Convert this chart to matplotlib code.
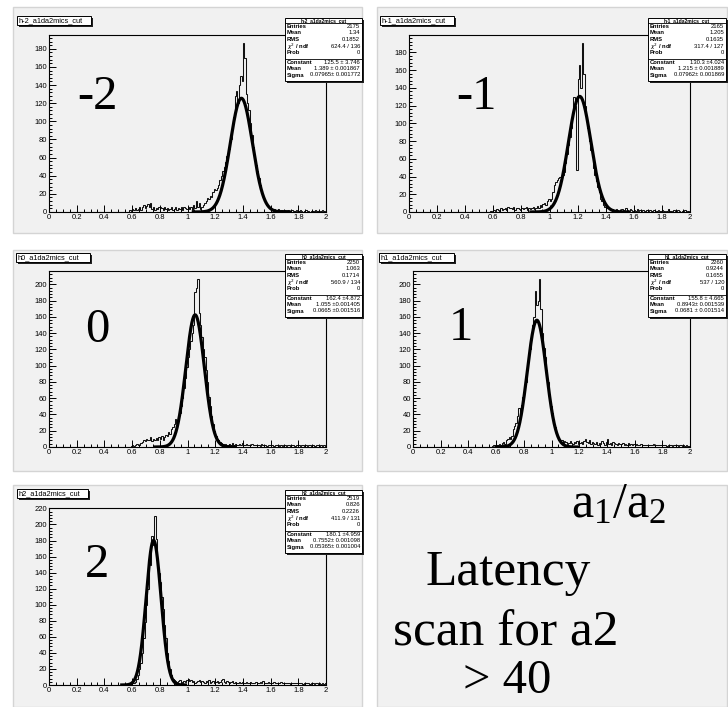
import numpy as np
import matplotlib
matplotlib.use("Agg")
import matplotlib.pyplot as plt
from matplotlib.patches import Rectangle
from matplotlib.lines import Line2D
from matplotlib.ticker import MultipleLocator, FuncFormatter

# ---------------------------------------------------------------- data
# bin counts (bin width 0.01) from a1/a2 = 0.50 upward to 2.00; below 0.50 all bins are empty
hm2_counts = [
    0, 0, 0, 0, 0, 0, 0, 0, 2, 1,
    3, 2, 4, 2, 3, 5, 2, 6, 8, 4,
    7, 9, 5, 10, 3, 6, 2, 4, 3, 5,
    6, 4, 2, 5, 3, 4, 2, 3, 5, 2,
    3, 6, 2, 4, 3, 5, 2, 6, 4, 3,
    5, 3, 6, 2, 8, 4, 12, 5, 10, 3,
    5, 8, 10, 12, 15, 14, 18, 16, 22, 25,
    24, 26, 30, 35, 40, 45, 50, 55, 62, 70,
    70, 80, 92, 105, 128, 134, 120, 140, 150, 145,
    186, 170, 130, 120, 112, 98, 85, 72, 60, 52,
    45, 38, 30, 24, 18, 14, 10, 8, 6, 4,
    3, 2, 3, 1, 2, 3, 1, 2, 2, 1,
    2, 1, 2, 1, 0, 2, 1, 1, 2, 1,
    1, 2, 1, 0, 1, 2, 1, 1, 0, 1,
    1, 0, 2, 1, 1, 0, 1, 2, 1, 0,
]
hm1_counts = [
    0, 0, 0, 0, 0, 0, 0, 0, 1, 0,
    2, 1, 3, 2, 1, 4, 2, 3, 5, 2,
    6, 4, 5, 3, 6, 2, 5, 4, 3, 2,
    5, 3, 4, 6, 2, 4, 3, 5, 6, 3,
    4, 7, 5, 8, 6, 9, 10, 8, 12, 15,
    12, 15, 22, 30, 34, 36, 38, 40, 38, 42,
    45, 55, 65, 75, 85, 95, 110, 130, 120, 47,
    150, 166, 140, 190, 155, 120, 105, 95, 80, 70,
    62, 50, 42, 35, 28, 22, 15, 12, 8, 6,
    5, 4, 3, 2, 3, 2, 1, 3, 2, 1,
    2, 3, 1, 2, 4, 2, 1, 3, 2, 1,
    2, 1, 3, 1, 2, 1, 2, 1, 0, 2,
    1, 2, 1, 1, 2, 0, 1, 2, 1, 1,
    2, 1, 0, 1, 3, 1, 1, 0, 2, 1,
    1, 2, 1, 0, 1, 1, 2, 0, 1, 0,
]
h0_counts = [
    0, 0, 0, 0, 0, 0, 0, 0, 0, 1,
    2, 1, 3, 4, 2, 3, 5, 6, 8, 7,
    10, 8, 9, 12, 7, 10, 8, 11, 9, 12,
    10, 13, 8, 12, 15, 14, 18, 16, 22, 25,
    28, 35, 30, 38, 42, 50, 60, 72, 85, 98,
    110, 120, 130, 140, 150, 190, 195, 206, 165, 150,
    135, 120, 110, 95, 80, 62, 50, 38, 28, 20,
    14, 10, 8, 6, 5, 4, 3, 4, 2, 3,
    4, 3, 5, 2, 4, 3, 2, 4, 3, 5,
    3, 2, 4, 3, 2, 3, 4, 2, 3, 2,
    3, 2, 1, 4, 2, 3, 2, 1, 3, 2,
    2, 3, 1, 2, 2, 3, 1, 2, 1, 2,
    3, 1, 2, 2, 1, 3, 2, 1, 2, 3,
    2, 1, 2, 3, 1, 2, 1, 2, 3, 1,
    2, 1, 1, 2, 3, 1, 2, 1, 2, 1,
]
h1_counts = [
    0, 0, 0, 0, 0, 0, 0, 1, 2, 0,
    3, 2, 4, 3, 5, 6, 4, 8, 10, 12,
    10, 14, 22, 26, 30, 38, 48, 40, 52, 62,
    70, 80, 95, 108, 120, 135, 150, 160, 192, 175,
    180, 206, 170, 140, 122, 110, 95, 80, 65, 50,
    42, 35, 25, 18, 12, 8, 6, 9, 5, 7,
    6, 4, 5, 7, 5, 4, 6, 5, 7, 4,
    5, 6, 4, 7, 10, 6, 5, 8, 4, 6,
    5, 4, 6, 3, 5, 4, 7, 5, 3, 6,
    10, 4, 5, 3, 6, 5, 4, 3, 5, 4,
    4, 5, 3, 4, 3, 5, 2, 4, 3, 4,
    3, 4, 2, 3, 4, 2, 3, 3, 2, 3,
    3, 2, 3, 4, 2, 3, 2, 3, 2, 2,
    2, 3, 2, 1, 3, 2, 2, 1, 2, 3,
    2, 1, 2, 2, 1, 2, 1, 2, 1, 1,
]
h2_counts = [
    0, 0, 0, 0, 0, 0, 0, 0, 1, 0,
    2, 3, 4, 7, 12, 20, 28, 40, 58, 78,
    100, 120, 163, 150, 186, 175, 210, 182, 150, 140,
    128, 110, 95, 75, 58, 40, 30, 20, 12, 8,
    6, 5, 4, 5, 6, 4, 3, 5, 4, 6,
    8, 5, 6, 4, 5, 3, 4, 5, 6, 4,
    5, 4, 3, 5, 4, 6, 3, 4, 5, 3,
    4, 5, 3, 4, 6, 7, 4, 3, 5, 4,
    3, 4, 5, 3, 4, 3, 2, 4, 3, 4,
    3, 2, 4, 3, 2, 4, 3, 2, 3, 4,
    3, 2, 4, 3, 5, 2, 3, 2, 4, 3,
    2, 3, 4, 2, 3, 2, 3, 4, 2, 3,
    3, 2, 3, 2, 1, 3, 2, 3, 2, 2,
    2, 3, 2, 1, 2, 3, 2, 2, 1, 2,
    2, 1, 3, 2, 1, 2, 1, 2, 1, 2,
]

hist_names = ["h-2_a1da2mics_cut", "h-1_a1da2mics_cut", "h0_a1da2mics_cut",
              "h1_a1da2mics_cut", "h2_a1da2mics_cut"]
latency_labels = ["-2", "-1", "0", "1", "2"]

# Gaussian fit results: constant, mean, sigma
fit_constant = [125.5, 130.3, 162.4, 155.8, 180.1]
fit_mean = [1.389, 1.215, 1.055, 0.8943, 0.7552]
fit_sigma = [0.07965, 0.07962, 0.0665, 0.0681, 0.05365]

# statistics box text
stat_entries = ["2175", "2165", "2250", "2260", "2519"]
stat_mean = ["1.34", "1.205", "1.063", "0.9244", "0.826"]
stat_rms = ["0.1852", "0.1635", "0.1714", "0.1655", "0.2226"]
stat_chi2 = ["624.4 / 136", "317.4 / 127", "560.9 / 134", "537 / 120", "411.9 / 131"]
stat_const_txt = ["125.5 \u00b1 3.746", "130.3 \u00b14.024", "162.4 \u00b14.872",
                  "155.8 \u00b1 4.665", "180.1 \u00b14.959"]
stat_mean_txt = ["1.389 \u00b1 0.001867", "1.215 \u00b1 0.001889", "1.055 \u00b10.001405",
                 "0.8943\u00b1 0.001539", "0.7552\u00b1 0.001098"]
stat_sigma_txt = ["0.07965\u00b1 0.001772", "0.07962\u00b1 0.001869", "0.0665 \u00b10.001516",
                  "0.0681 \u00b1 0.001514", "0.05365\u00b1 0.001004"]

bin_edges = np.linspace(0.0, 2.0, 201)
all_counts = [hm2_counts, hm1_counts, h0_counts, h1_counts, h2_counts]

# ---------------------------------------------------------------- layout (pixels)
W, H = 728, 707
fig = plt.figure(figsize=(W / 100, H / 100), dpi=100)
fig.patch.set_facecolor("white")

PAD_GRAY = "#f1f1f1"
SANS = ["Liberation Sans", "DejaVu Sans"]
SERIF = ["Liberation Serif", "DejaVu Serif"]


def fx(x):
    return x / W


def fy(y):
    return 1 - y / H


def frect(x0, y0, x1, y1):
    return [fx(x0), fy(y1), (x1 - x0) / W, (y1 - y0) / H]


def add_rect(x0, y0, x1, y1, **kw):
    r = Rectangle((fx(x0), fy(y1)), (x1 - x0) / W, (y1 - y0) / H,
                  transform=fig.transFigure, **kw)
    fig.add_artist(r)
    return r


def add_text(x, y, s, **kw):
    fig.text(fx(x), fy(y), s, **kw)


pads = [(13, 7, 362, 233), (377, 7, 727, 233),
        (13, 250, 362, 471), (377, 250, 727, 471),
        (13, 485, 362, 707), (377, 485, 727, 707)]
frames = [(49, 35, 326, 212), (409, 35, 690, 212),
          (49, 271, 326, 447), (413, 271, 690, 447),
          (49, 508, 326, 685)]
title_boxes = [(17, 16, 91, 25), (380, 16, 454, 25),
               (16, 253, 90, 262), (379, 253, 454, 262),
               (17, 489, 88, 498)]
stat_boxes = [(285, 18, 362, 81), (648, 18, 726, 81),
              (285, 254, 362, 317), (648, 254, 726, 317),
              (285, 490, 362, 553)]
big_label_pos = [(97, 97), (476, 97), (97, 330), (461, 328), (97, 565)]

for (x0, y0, x1, y1) in pads:
    add_rect(x0, y0, x1, y1, facecolor=PAD_GRAY, edgecolor="#d4d4d4", lw=1.0, zorder=0)

for i in range(5):
    counts = np.concatenate([np.zeros(50), np.array(all_counts[i], dtype=float)])
    ax = fig.add_axes(frect(*frames[i]))
    ax.set_facecolor(PAD_GRAY)
    ax.stairs(counts, bin_edges, color="#111111", lw=0.75, baseline=None)

    c, m, s = fit_constant[i], fit_mean[i], fit_sigma[i]
    xf = np.linspace(m - 4.5 * s, m + 4.5 * s, 500)
    ax.plot(xf, c * np.exp(-0.5 * ((xf - m) / s) ** 2), color="black", lw=2.3,
            solid_capstyle="butt")

    ax.set_xlim(0, 2)
    ax.set_ylim(0, 1.05 * counts.max())
    ax.xaxis.set_major_locator(MultipleLocator(0.2))
    ax.xaxis.set_minor_locator(MultipleLocator(0.05))
    ax.yaxis.set_major_locator(MultipleLocator(20))
    ax.yaxis.set_minor_locator(MultipleLocator(4))
    ax.xaxis.set_major_formatter(FuncFormatter(lambda v, p: f"{v:g}"))
    ax.yaxis.set_major_formatter(FuncFormatter(lambda v, p: f"{v:g}"))
    ax.tick_params(which="both", direction="in", top=False, right=False,
                   labelsize=5.5, pad=1.5, width=0.7)
    ax.tick_params(which="major", length=5)
    ax.tick_params(which="minor", length=2.5)
    for lab in ax.get_xticklabels() + ax.get_yticklabels():
        lab.set_fontfamily(SANS)
    for sp in ax.spines.values():
        sp.set_linewidth(0.8)

    bx, by = big_label_pos[i]
    add_text(bx, by, latency_labels[i], family=SERIF, fontsize=35,
             ha="center", va="center", zorder=5)

    # histogram title box with shadow
    x0, y0, x1, y1 = title_boxes[i]
    add_rect(x0 + 2, y0 + 2, x1 + 2, y1 + 2, facecolor="#222222", edgecolor="none", zorder=6)
    add_rect(x0, y0, x1, y1, facecolor="white", edgecolor="black", lw=0.7, zorder=7)
    add_text(x0 + 1.5, (y0 + y1) / 2 + 0.3, hist_names[i], family=SANS, fontsize=5.3,
             ha="left", va="center", zorder=8)

    # statistics box with shadow
    x0, y0, x1, y1 = stat_boxes[i]
    add_rect(x0 + 2, y0 + 2, x1 + 2, y1 + 2, facecolor="#222222", edgecolor="none", zorder=6)
    add_rect(x0, y0, x1, y1, facecolor="white", edgecolor="black", lw=0.7, zorder=7)
    add_text((x0 + x1) / 2, y0 + 2.8, hist_names[i], family=SANS, fontsize=3.6,
             ha="center", va="center", zorder=8, fontweight="bold")
    for yy in (y0 + 5.2, y0 + 40.5):
        fig.add_artist(Line2D([fx(x0), fx(x1)], [fy(yy), fy(yy)],
                              transform=fig.transFigure, color="black", lw=0.6, zorder=8))
    rows = [("Entries", stat_entries[i], 8.7), ("Mean", stat_mean[i], 15.0),
            ("RMS", stat_rms[i], 21.3), (r"$\chi^2$ / ndf", stat_chi2[i], 28.5),
            ("Prob", "0", 35.0), ("Constant", stat_const_txt[i], 44.0),
            ("Mean", stat_mean_txt[i], 50.3), ("Sigma", stat_sigma_txt[i], 57.0)]
    for lab, val, dy in rows:
        add_text(x0 + 2, y0 + dy, lab, family=SANS, fontsize=4.2, ha="left",
                 va="center", zorder=8, fontweight="bold")
        add_text(x1 - 2, y0 + dy, val, family=SANS, fontsize=4.2, ha="right",
                 va="center", zorder=8)

# caption panel
plt.rcParams["mathtext.fontset"] = "custom"
plt.rcParams["mathtext.rm"] = "Liberation Serif"
plt.rcParams["mathtext.it"] = "Liberation Serif:italic"
add_text(619, 517, r"$\mathrm{a_1/a_2}$", fontsize=36, ha="center", va="baseline", zorder=5)
add_text(508, 585, "Latency", family=SERIF, fontsize=37, ha="center", va="baseline", zorder=5)
add_text(506, 645, "scan for a2", family=SERIF, fontsize=37, ha="center", va="baseline", zorder=5)
add_text(507, 693, "> 40", family=SERIF, fontsize=35, ha="center", va="baseline", zorder=5)

fig.savefig("out.png", dpi=100, facecolor="white")
